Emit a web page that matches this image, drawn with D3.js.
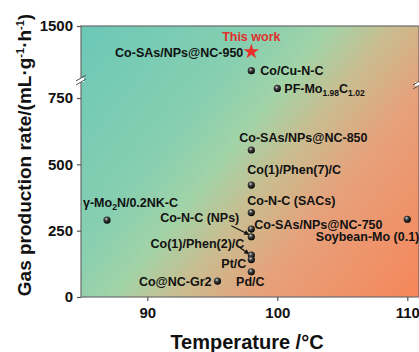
<!DOCTYPE html>
<html>
<head>
<meta charset="utf-8">
<script src="https://cdn.jsdelivr.net/npm/d3@7"></script>
<style>
  html, body { margin: 0; padding: 0; background: #fff; }
  svg { display: block; font-family: "Liberation Sans", Arial, sans-serif; }
</style>
</head>
<body>
<svg id="canvas" width="419" height="352"></svg>
<script>
// catalysts, temperature (°C) and gas production rate (mL g-1 h-1)
const names = [
  "Co-SAs/NPs@NC-950", "Co/Cu-N-C", "PF-Mo_{1.98}C_{1.02}", "Co-SAs/NPs@NC-850",
  "Co(1)/Phen(7)/C", "Co-N-C (SACs)", "Co-SAs/NPs@NC-750", "Co-N-C (NPs)",
  "Co(1)/Phen(2)/C", "Pt/C", "Pd/C", "Co@NC-Gr2", "γ-Mo_{2}N/0.2NK-C", "Soybean-Mo (0.1)"
];
const temps = [98, 98, 100, 98, 98, 98, 98, 98, 98, 98, 98, 95.4, 86.9, 110];
const rates = [1262, 1086, 786, 554, 422, 318, 256, 227, 158, 141, 95, 60, 290, 293];
const xTicks = [90, 100, 110];
const yTicksLow = [0, 250, 500, 750];
const yTicksHigh = [1500];

const m = { left: 81, top: 26, right: 419, bottom: 297, brk: 80 };

// label placement: [dx, dy, anchor, arrow]
const place = {
  "Co-SAs/NPs@NC-950": [-8, 5, "end"],
  "Co/Cu-N-C": [9, 4, "start"],
  "PF-Mo_{1.98}C_{1.02}": [7, 5, "start"],
  "Co-SAs/NPs@NC-850": [-12, -8, "start"],
  "Co(1)/Phen(7)/C": [-4, -11.5, "start"],
  "Co-N-C (SACs)": [-4, -7.5, "start"],
  "Co-SAs/NPs@NC-750": [3, -0.5, "start"],
  "Co-N-C (NPs)": [-12, -15, "end", [[-20, -11], [-2, -2]]],
  "Co(1)/Phen(2)/C": [-7, -7.5, "end", [[-11, -7], [-2, -1]]],
  "Pt/C": [-5, 8, "end"],
  "Pd/C": [-1, 14.5, "middle"],
  "Co@NC-Gr2": [-6, 5, "end"],
  "γ-Mo_{2}N/0.2NK-C": [-24, -13.5, "start"],
  "Soybean-Mo (0.1)": [12, 22, "end"]
};

const svg = d3.select("#canvas");
const defs = svg.append("defs");

const grad = defs.append("linearGradient")
  .attr("id", "bg")
  .attr("gradientUnits", "userSpaceOnUse")
  .attr("x1", m.left).attr("y1", m.top)
  .attr("x2", m.right).attr("y2", m.bottom);
[[0, "#6bc8b7"], [0.33, "#88cfb0"], [0.45, "#a2d3a7"], [0.56, "#c9bd90"],
 [0.7, "#e6a17b"], [1, "#f6865a"]].forEach(([o, c]) =>
  grad.append("stop").attr("offset", o).attr("stop-color", c));

const ball = defs.append("radialGradient")
  .attr("id", "ball").attr("cx", "40%").attr("cy", "35%").attr("r", "65%");
ball.append("stop").attr("offset", 0).attr("stop-color", "#d8d8d8");
ball.append("stop").attr("offset", 0.35).attr("stop-color", "#444");
ball.append("stop").attr("offset", 1).attr("stop-color", "#000");

const x = d3.scaleLinear().domain([84.9, 110.9]).range([m.left, m.right]);
const yLow = d3.scaleLinear().domain([0, 750]).range([m.bottom, 98]);
const yHigh = d3.scaleLinear().domain([1000, 1500]).range([m.brk, m.top]);
const y = v => v > 1000 ? yHigh(v) : yLow(v);

svg.append("rect")
  .attr("x", m.left).attr("y", m.top)
  .attr("width", m.right - m.left).attr("height", m.bottom - m.top)
  .attr("fill", "url(#bg)")
  .attr("stroke", "#6b6b6b").attr("stroke-width", 1.2);

// axes
const styleAxis = g => {
  g.select(".domain").remove();
  g.selectAll(".tick line").attr("stroke", "#555").attr("stroke-width", 1.2);
  g.selectAll(".tick text")
    .attr("font-size", 15).attr("font-weight", "bold").attr("fill", "#111");
};

svg.append("g")
  .attr("transform", `translate(0,${m.bottom})`)
  .call(d3.axisBottom(x).tickValues(xTicks).tickSize(4).tickPadding(6).tickFormat(d3.format("d")))
  .call(styleAxis);

svg.append("g")
  .attr("transform", `translate(${m.left},0)`)
  .call(d3.axisLeft(yLow).tickValues(yTicksLow).tickSize(4).tickPadding(4).tickFormat(d3.format("d")))
  .call(styleAxis);

svg.append("g")
  .attr("transform", `translate(${m.left},0)`)
  .call(d3.axisLeft(yHigh).tickValues(yTicksHigh).tickSize(4).tickPadding(4).tickFormat(d3.format("d")))
  .call(styleAxis);

// axis break marks
[[m.left, m.brk], [m.right - 1, m.brk + 4]].forEach(([bx, by]) => {
  svg.append("rect").attr("x", bx - 3).attr("y", by - 2)
    .attr("width", 6).attr("height", 4).attr("fill", "#fff");
  [-2, 2].forEach(o => svg.append("line")
    .attr("x1", bx - 5).attr("y1", by + o + 3)
    .attr("x2", bx + 5).attr("y2", by + o - 3)
    .attr("stroke", "#555").attr("stroke-width", 1));
});

// axis titles
svg.append("text")
  .attr("x", 247).attr("y", 349)
  .attr("text-anchor", "middle")
  .attr("font-size", 20).attr("font-weight", "bold").attr("fill", "#111")
  .text("Temperature /°C");

const yt = svg.append("text")
  .attr("transform", "translate(31,155) rotate(-90)")
  .attr("text-anchor", "middle")
  .attr("font-size", 19).attr("font-weight", "bold").attr("fill", "#111");
yt.append("tspan").text("Gas production rate/(mL·g");
yt.append("tspan").attr("font-size", 11).attr("dy", -7).text("-1");
yt.append("tspan").attr("dy", 7).text("·h");
yt.append("tspan").attr("font-size", 11).attr("dy", -7).text("-1");
yt.append("tspan").attr("dy", 7).text(")");

// labels with _{sub} parsing
function richText(sel, str) {
  let shift = 0;
  str.split(/(_\{[^}]*\})/).filter(s => s).forEach(part => {
    if (part.startsWith("_{")) {
      sel.append("tspan").attr("font-size", 8.5).attr("dy", 3 - shift).text(part.slice(2, -1));
      shift = 3;
    } else {
      sel.append("tspan").attr("dy", -shift).text(part);
      shift = 0;
    }
  });
}

const data = names.map((n, i) => ({ name: n, t: temps[i], r: rates[i] }));

const lab = svg.append("g")
  .attr("font-size", 12.5).attr("font-weight", "bold").attr("fill", "#111");
data.forEach(d => {
  const [dx, dy, anchor, arrow] = place[d.name];
  const t = lab.append("text")
    .attr("x", x(d.t) + dx).attr("y", y(d.r) + dy)
    .attr("text-anchor", anchor);
  richText(t, d.name);
  if (arrow) {
    const [[ax1, ay1], [ax2, ay2]] = arrow;
    const x1 = x(d.t) + ax1, y1 = y(d.r) + ay1, x2 = x(d.t) + ax2, y2 = y(d.r) + ay2;
    svg.append("line").attr("x1", x1).attr("y1", y1).attr("x2", x2).attr("y2", y2)
      .attr("stroke", "#111").attr("stroke-width", 1.2);
    const ang = Math.atan2(y2 - y1, x2 - x1);
    const hl = 5, hw = 2.5;
    const p = [
      [x2, y2],
      [x2 - hl * Math.cos(ang) + hw * Math.sin(ang), y2 - hl * Math.sin(ang) - hw * Math.cos(ang)],
      [x2 - hl * Math.cos(ang) - hw * Math.sin(ang), y2 - hl * Math.sin(ang) + hw * Math.cos(ang)]
    ];
    svg.append("path").attr("d", "M" + p.join("L") + "Z").attr("fill", "#111");
  }
});

// points
svg.append("g")
  .selectAll("circle")
  .data(data.slice(1))
  .join("circle")
  .attr("cx", d => x(d.t))
  .attr("cy", d => y(d.r))
  .attr("r", 3.6)
  .attr("fill", "url(#ball)");

// star for this work
const star = data[0];
svg.append("path")
  .attr("d", d3.symbol(d3.symbolStar, 75)())
  .attr("transform", `translate(${x(star.t)},${y(star.r)})`)
  .attr("fill", "#e8302c");
svg.append("text")
  .attr("x", x(star.t)).attr("y", y(star.r) - 11)
  .attr("text-anchor", "middle")
  .attr("font-size", 12.5).attr("font-weight", "bold").attr("fill", "#e0302c")
  .text("This work");
</script>
</body>
</html>
